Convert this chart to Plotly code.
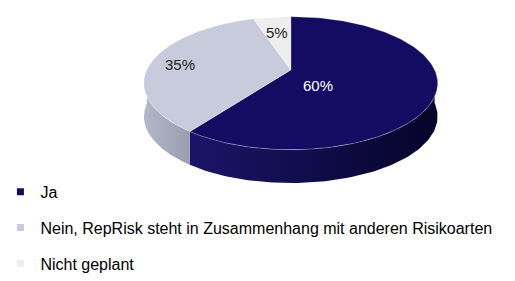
import numpy as np
import plotly.graph_objects as go

# ---- data ----
categories = ["Ja", "Nein, RepRisk steht in Zusammenhang mit anderen Risikoarten", "Nicht geplant"]
values = [60, 35, 5]
top_colors = ["#140c62", "#c8cbdb", "#eeeeee"]
side_colors = [("#1c1468", "#06042a"), ("#b4b7c8", "#9a9db0"), ("#d8d8d8", "#c0c0c0")]
label_colors = ["#ffffff", "#222222", "#222222"]

# ---- geometry (pixel-like axes, perspective-tilted disk) ----
W, H = 515, 281
cx, cy, a, b, k, depth = 289, 71.4, 145, 65.3, 0.2, 34
label_r = [0.2, 0.8, 0.7]
label_dy = [12, 2, 1]


def ell(theta_deg, r=1.0, dz=0.0):
    t = np.radians(theta_deg)
    p = 1.0 / (1.0 + k * r * np.cos(t))
    return cx + a * r * np.sin(t) * p, cy - b * r * np.cos(t) * p + dz


total = sum(values)
fr = np.array(values) / total
ends = np.cumsum(fr) * 360
starts = np.concatenate([[0], ends[:-1]])

fig = go.Figure()

# side walls (front-facing part: 90..270 deg)
for i in range(len(values)):
    s, e = max(starts[i], 90), min(ends[i], 270)
    if e <= s:
        continue
    th = np.linspace(s, e, 100)
    xt, yt = ell(th)
    xb, yb = ell(th[::-1], dz=depth)
    xs = np.concatenate([xt, xb, xt[:1]])
    ys = np.concatenate([yt, yb, yt[:1]])
    fig.add_trace(go.Scatter(
        x=xs, y=ys, mode="lines", fill="toself",
        line=dict(width=0, color=side_colors[i][1]),
        fillgradient=dict(type="horizontal",
                          colorscale=[[0, side_colors[i][0]], [1, side_colors[i][1]]]),
        hoverinfo="skip", showlegend=False))

# top faces
for i in range(len(values)):
    th = np.linspace(starts[i], ends[i], 150)
    xa, ya = ell(th)
    xs = np.concatenate([[cx], xa, [cx]])
    ys = np.concatenate([[cy], ya, [cy]])
    fig.add_trace(go.Scatter(
        x=xs, y=ys, mode="lines", fill="toself", fillcolor=top_colors[i],
        line=dict(width=0.6, color="rgba(255,255,255,0.5)"),
        hoverinfo="skip", showlegend=False))

# labels
for i in range(len(values)):
    mid = (starts[i] + ends[i]) / 2
    lx, ly = ell(mid, r=label_r[i])
    fig.add_annotation(x=lx, y=ly + label_dy[i], text=f"{values[i]}%", showarrow=False,
                       font=dict(family="Liberation Sans, Arial", size=15, color=label_colors[i]))

# legend entries
for i, c in enumerate(categories):
    fig.add_trace(go.Scatter(
        x=[None], y=[None], mode="markers", name=c, legendgroup=str(i),
        marker=dict(symbol="square", size=7, color=top_colors[i])))

fig.update_layout(
    width=W, height=H, margin=dict(l=0, r=0, t=0, b=0),
    paper_bgcolor="white", plot_bgcolor="white",
    xaxis=dict(range=[0, W], visible=False, fixedrange=True),
    yaxis=dict(range=[H, 0], visible=False, fixedrange=True),
    showlegend=True,
    legend=dict(x=-0.007, y=0.364, xanchor="left", yanchor="top",
                font=dict(family="Liberation Sans, Arial", size=16, color="#000000"),
                tracegroupgap=12, itemwidth=30, bgcolor="rgba(0,0,0,0)"),
)

fig.write_html("out.html")
